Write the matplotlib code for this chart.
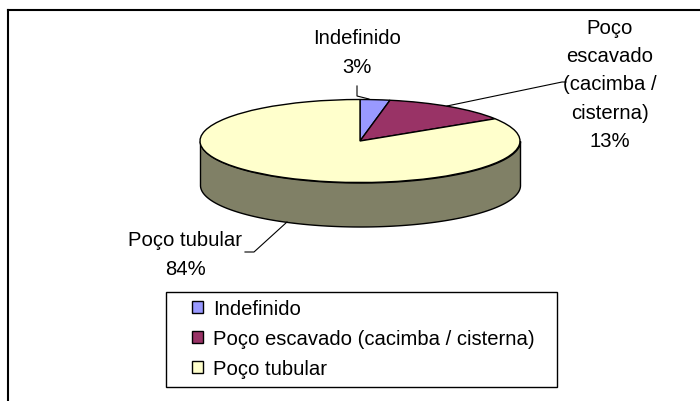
import matplotlib.pyplot as plt
import numpy as np
from matplotlib.patches import Rectangle
from matplotlib.lines import Line2D

# dados
categories = ["Indefinido", "Poço escavado (cacimba / cisterna)", "Poço tubular"]
pie_labels = ["Indefinido\n3%", "Poço\nescavado\n(cacimba /\ncisterna)\n13%", "Poço tubular\n84%"]
values = [3, 13, 84]
colors = ["#9999FF", "#993366", "#FFFFCC"]
side_color = "#808066"

# geometria em pixels
W, H = 700, 402
cx, cy, rx, ry, depth = 360, 142, 160, 41.5, 44


def fx(x):
    return x / W


def fy(y):
    return 1 - y / H


plt.rcParams["font.family"] = ["Liberation Sans", "DejaVu Sans"]
plt.rcParams["font.size"] = 14.6

fig = plt.figure(figsize=(7, 4.02), dpi=100)
ax = fig.add_axes([0, 0, 1, 1])

wedges, _ = ax.pie(
    values,
    colors=colors,
    startangle=90,
    counterclock=False,
    wedgeprops=dict(edgecolor="black", linewidth=1, zorder=3),
)
ax.set_aspect("auto")
ax.set_xlim(-cx / rx, (W - cx) / rx)
ax.set_ylim((cy - H) / ry, cy / ry)
ax.axis("off")

# lateral do disco (só a metade da frente aparece)
t = np.linspace(np.pi, 2 * np.pi, 300)
d = depth / ry
ax.fill_between(np.cos(t), np.sin(t) - d, np.sin(t),
                facecolor=side_color, edgecolor="black", linewidth=1, zorder=1)

# rótulos
fig.text(fx(357), fy(53), pie_labels[0], ha="center", va="center", linespacing=1.63)
fig.text(fx(610), fy(85), pie_labels[1], ha="center", va="center", linespacing=1.63)
fig.text(fx(185), fy(255), pie_labels[2], ha="center", va="center", linespacing=1.63)

# linhas de chamada
leaders = [
    [(357, 87), (357, 97), (369, 100)],
    [(447, 107), (562, 83), (566, 83)],
    [(245, 253), (254, 253), (287, 223)],
]
for pts in leaders:
    xs = [fx(p[0]) for p in pts]
    ys = [fy(p[1]) for p in pts]
    fig.add_artist(Line2D(xs, ys, color="black", linewidth=0.8, transform=fig.transFigure))

# moldura da área do gráfico
fig.add_artist(Line2D([fx(8), fx(700)], [fy(11), fy(11)], color="black", lw=1.5,
                      transform=fig.transFigure))
fig.add_artist(Line2D([fx(8), fx(8)], [fy(11), fy(402)], color="black", lw=1.5,
                      transform=fig.transFigure))

# legenda
fig.add_artist(Rectangle((fx(166), fy(388)), fx(557) - fx(166), fy(293) - fy(388),
                         transform=fig.transFigure, facecolor="white",
                         edgecolor="black", linewidth=1, zorder=4))
leg = fig.legend(
    wedges, categories,
    loc="upper left",
    bbox_to_anchor=(fx(192), fy(300)),
    frameon=False,
    borderpad=0,
    borderaxespad=0,
    handlelength=0.55,
    handleheight=0.55,
    handletextpad=0.5,
    labelspacing=0.55,
    fontsize=14.6,
)
leg.set_zorder(5)

fig.savefig("out.png", dpi=100)
